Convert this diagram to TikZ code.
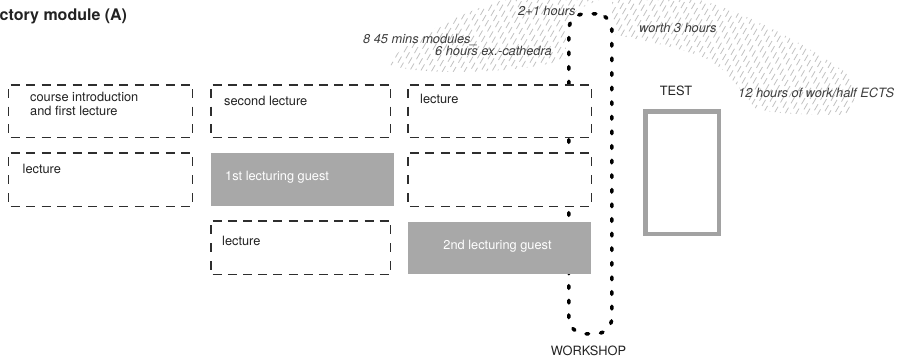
\documentclass[tikz,border=0pt]{standalone}
\usepackage{fontspec}
\setmainfont{TeX Gyre Heros}
\usetikzlibrary{decorations}
\definecolor{dashc}{HTML}{2E2E2E}
\definecolor{boxgray}{HTML}{A8A8A8}
\definecolor{testc}{HTML}{A2A2A2}
\definecolor{txt}{HTML}{222222}
\definecolor{ltxt}{HTML}{3C3C3C}
\definecolor{hatchc}{HTML}{C2C2C2}
\newcommand\dsides[1]{%
  \begin{scope}
  \clip ([shift={(-0.8,-0.8)}]#1.north west) rectangle ([shift={(0.8,0.8)}]#1.south east);
  \draw[dline] ([xshift=-4.5pt]#1.north west) -- ([xshift=4.5pt]#1.north east);
  \draw[dline] ([xshift=-4.5pt]#1.south west) -- ([xshift=4.5pt]#1.south east);
  \draw[dline] ([yshift=4.5pt]#1.north west) -- ([yshift=-4.5pt]#1.south west);
  \draw[dline] ([yshift=4.5pt]#1.north east) -- ([yshift=-4.5pt]#1.south east);
  \end{scope}}
\begin{document}
\begin{tikzpicture}[x=1pt,y=-1pt,
  dline/.style={draw=dashc, line width=1.5pt, dash pattern=on 9pt off 6pt, dash expand off},
  dbox/.style={fill=white, draw=none, anchor=north west, inner sep=0pt},
  gbox/.style={fill=boxgray, draw=none, anchor=north west, inner sep=0pt},
  btext/.style={font=\fontsize{12.8}{14}\selectfont, text=txt, inner sep=0pt, anchor=base west},
  gtext/.style={font=\fontsize{12.8}{14}\selectfont, text=white, inner sep=0pt},
  itext/.style={font=\fontsize{12.8}{14}\selectfont\itshape, text=ltxt, inner sep=0pt, anchor=base west},
  hatch/.style={draw=hatchc, line width=0.8pt},
  loopline/.style={draw=black, line width=3.6pt, line cap=round, dash pattern=on 2.6pt off 12pt},
]
\useasboundingbox (0,0) rectangle (910,362);

% hatched areas
\begin{scope}
\clip (388,64) .. controls (400,45) and (450,15) .. (510,-2) -- (604,-2)
  .. controls (590,4) and (568,10) .. (566,28) -- (566,58)
  .. controls (540,72) and (420,78) .. (388,64) -- cycle;
\foreach \i [count=\k] in {296,301.5,...,620} {
  \pgfmathsetmacro\ph{mod(\k*7,13)}
  \draw[hatch, dash pattern=on 7pt off 5pt, dash phase=\ph pt] (\i,125) -- ++(75,-130);}
\end{scope}
\begin{scope}
\clip (612,-2) -- (690,-2) .. controls (730,5) and (800,40) .. (845,72)
  .. controls (858,85) and (856,110) .. (848,115)
  .. controls (810,115) and (770,114) .. (755,108)
  .. controls (740,90) and (725,65) .. (700,56)
  .. controls (670,45) and (630,38) .. (612,34) -- cycle;
\foreach \i [count=\k] in {520,525.5,...,860} {
  \pgfmathsetmacro\ph{mod(\k*7,13)}
  \draw[hatch, dash pattern=on 7pt off 5pt, dash phase=\ph pt] (\i,125) -- ++(75,-130);}
\end{scope}

% workshop loop (behind the boxes)
\node[loopline, rounded corners=16pt, minimum width=43pt, minimum height=320pt, anchor=north west, inner sep=0pt] (loop) at (567,12) {};

% boxes
\node[dbox, minimum width=183.5pt, minimum height=52pt] (A1) at (8.5,85) {};
\node[dbox, minimum width=179pt, minimum height=52pt] (B1) at (211,85) {};
\node[dbox, minimum width=183pt, minimum height=52pt] (C1) at (408,85) {};
\node[dbox, minimum width=183.5pt, minimum height=53pt] (A2) at (8.5,153) {};
\node[gbox, minimum width=183pt, minimum height=53pt] (B2) at (211,153) {};
\node[dbox, minimum width=183pt, minimum height=53pt] (C2) at (408,153) {};
\node[dbox, minimum width=179pt, minimum height=53pt] (B3) at (211,221) {};
\node[gbox, minimum width=183pt, minimum height=52pt] (C3) at (408,222) {};
\dsides{A1}\dsides{B1}\dsides{C1}\dsides{A2}\dsides{C2}\dsides{B3}

% test box
\node[draw=testc, line width=4.5pt, minimum width=73.5pt, minimum height=122.5pt, anchor=north west, inner sep=0pt] (test) at (643.25,109.25) {};

% texts
\node[font=\fontsize{16}{18}\selectfont\bfseries, text=txt, anchor=base west, inner sep=0pt] (title) at (-0.5,20) {ctory module (A)};
\node[btext, anchor=north west, align=left] (tA1) at (30,91.6) {course introduction\\and first lecture};
\node[btext] (tB1) at (224,105) {second lecture};
\node[btext] (tC1) at (420,103) {lecture};
\node[btext] (tA2) at (22.5,173) {lecture};
\node[gtext, anchor=base west] (tB2) at (225,180.5) {1st lecturing guest};
\node[btext] (tB3) at (222,245) {lecture};
\node[gtext, anchor=base] (tC3) at (497.5,249) {2nd lecturing guest};
\node[btext, anchor=base] (ttest) at (676,95) {TEST};
\node[btext, anchor=base] (tws) at (588.5,355) {WORKSHOP};

\node[itext] (l1) at (363,43) {8 45 mins modules\_};
\node[itext] (l2) at (435,55) {6 hours ex.-cathedra};
\node[itext] (l3) at (518,15) {2+1 hours};
\node[itext] (l4) at (639,32) {worth 3 hours};
\node[itext] (l5) at (738,97) {12 hours of work/half ECTS};
\end{tikzpicture}
\end{document}
